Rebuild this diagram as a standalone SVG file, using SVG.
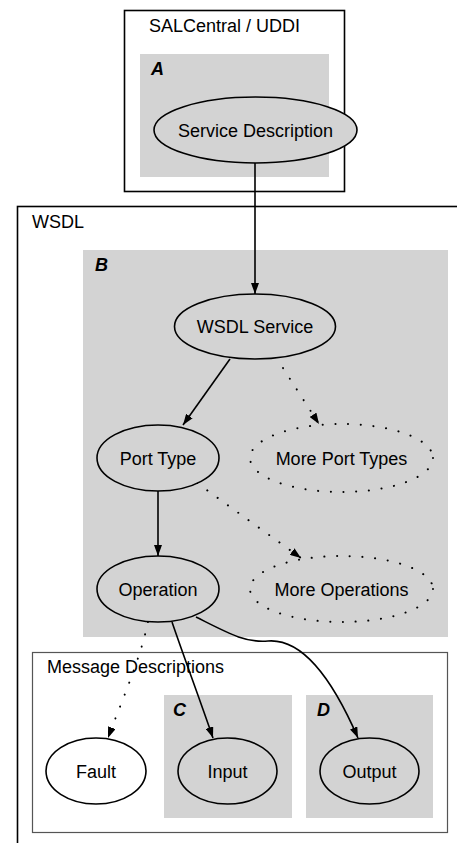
<svg xmlns="http://www.w3.org/2000/svg" width="457" height="843" viewBox="0 0 457 843">
<defs>
<marker id="ah" markerWidth="11" markerHeight="8" refX="11" refY="4" orient="auto" markerUnits="userSpaceOnUse">
<path d="M0,0 L11,4 L0,8 z" fill="#000"/>
</marker>
<style>
text{font-family:"Liberation Sans",Arial,Helvetica,sans-serif;font-size:18px;fill:#000}
.lbl{font-weight:bold;font-style:italic}
.mid{text-anchor:middle}
.box{fill:#fff;stroke:#000;stroke-width:1.6}
.msg{fill:#fff;stroke:#555;stroke-width:1.2}
.gray{fill:#d3d3d3;stroke:none}
.node{fill:#d3d3d3;stroke:#000;stroke-width:1.6}
.wnode{fill:#fff;stroke:#000;stroke-width:1.6}
.dnode{fill:#d3d3d3;stroke:#000;stroke-width:2;stroke-linecap:round;stroke-dasharray:0.1 12.6}
.e{fill:none;stroke:#000;stroke-width:1.6}
.d{fill:none;stroke:#000;stroke-width:2;stroke-linecap:round;stroke-dasharray:0.1 12.6}
</style>
</defs>
<g id="cluster-uddi">
<rect class="box" x="124.5" y="10.5" width="220" height="181"/>
<text x="149" y="32">SALCentral / UDDI</text>
<rect class="gray" x="140" y="54" width="189" height="123"/>
<text class="lbl" x="151" y="75">A</text>
</g>
<g id="cluster-wsdl">
<rect class="box" x="17.5" y="206.5" width="460" height="660"/>
<text x="32" y="228">WSDL</text>
<rect class="gray" x="83" y="250" width="365" height="387"/>
<text class="lbl" x="95" y="271">B</text>
</g>
<g id="cluster-msg">
<rect class="msg" x="32.5" y="652.5" width="415" height="180"/>
<text x="47" y="673">Message Descriptions</text>
<rect class="gray" x="164" y="695" width="128" height="123"/>
<text class="lbl" x="173" y="716">C</text>
<rect class="gray" x="306" y="695" width="127" height="123"/>
<text class="lbl" x="317" y="716">D</text>
</g>
<g id="connectors">
<path class="e" d="M255,163 L255,294" marker-end="url(#ah)"/>
<path class="e" d="M230,359 L183,425" marker-end="url(#ah)"/>
<path class="d" d="M283,368 L319,424" marker-end="url(#ah)"/>
<path class="e" d="M158,491 L158,556" marker-end="url(#ah)"/>
<path class="d" d="M197,483 L301,558" marker-end="url(#ah)"/>
<path class="d" d="M148,622 C140,660 122,700 108,738" marker-end="url(#ah)"/>
<path class="e" d="M172,622 C185,660 200,700 213,738" marker-end="url(#ah)"/>
<path class="e" d="M196,617 C228,633 245,643 268,641 C305,638 335,685 358,738" marker-end="url(#ah)"/>
</g>
<g id="n-service-description">
<ellipse class="node" cx="255.5" cy="130" rx="101.5" ry="33"/>
<text class="mid" x="255.5" y="136.5">Service Description</text>
</g>
<g id="n-wsdl-service">
<ellipse class="node" cx="255" cy="326.5" rx="80.5" ry="32.5"/>
<text class="mid" x="255" y="333">WSDL Service</text>
</g>
<g id="n-port-type">
<ellipse class="node" cx="158" cy="458" rx="61" ry="33"/>
<text class="mid" x="158" y="464.5">Port Type</text>
</g>
<g id="n-more-port-types">
<ellipse class="dnode" cx="341.5" cy="458" rx="91.5" ry="34"/>
<text class="mid" x="341.5" y="464.5">More Port Types</text>
</g>
<g id="n-operation">
<ellipse class="node" cx="158" cy="589" rx="61" ry="33"/>
<text class="mid" x="158" y="595.5">Operation</text>
</g>
<g id="n-more-operations">
<ellipse class="dnode" cx="341.5" cy="589" rx="91.5" ry="33"/>
<text class="mid" x="341.5" y="595.5">More Operations</text>
</g>
<g id="n-fault">
<ellipse class="wnode" cx="96" cy="771" rx="50" ry="33"/>
<text class="mid" x="96" y="777.5">Fault</text>
</g>
<g id="n-input">
<ellipse class="node" cx="227.5" cy="771" rx="49.5" ry="33"/>
<text class="mid" x="227.5" y="777.5">Input</text>
</g>
<g id="n-output">
<ellipse class="node" cx="369.5" cy="771" rx="49.5" ry="33"/>
<text class="mid" x="369.5" y="777.5">Output</text>
</g>
</svg>
